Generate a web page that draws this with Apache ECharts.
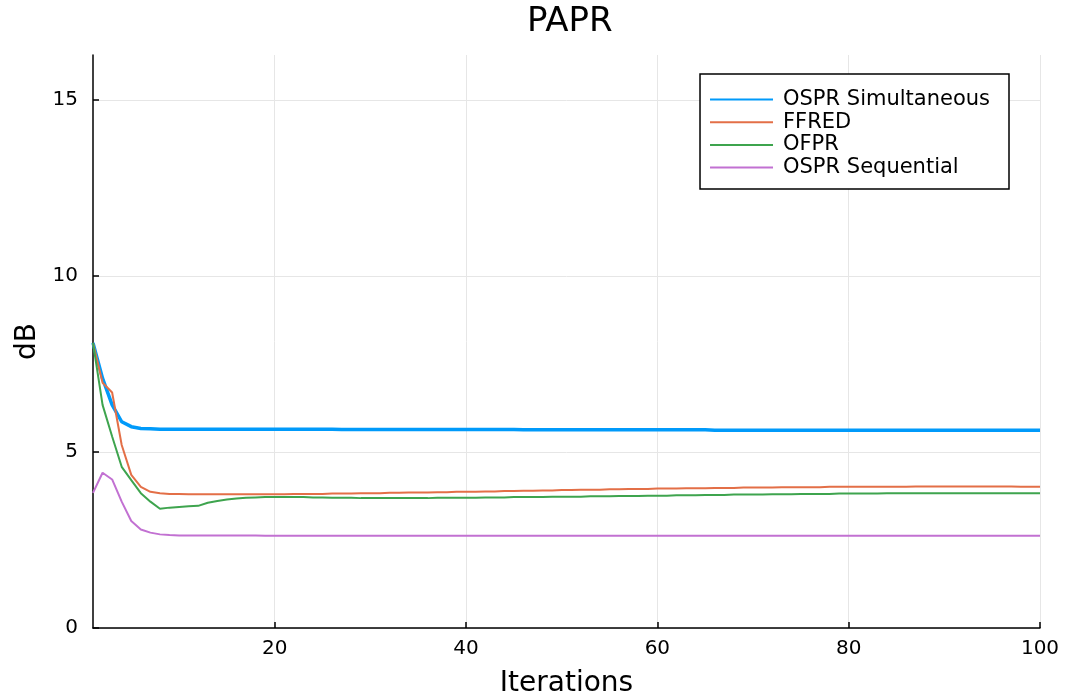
<!DOCTYPE html>
<html>
<head>
<meta charset="utf-8">
<script src="https://cdn.jsdelivr.net/npm/echarts@6/dist/echarts.min.js"></script>
<style>html,body{margin:0;padding:0;background:#fff}#c{width:1066px;height:698px}</style>
</head>
<body>
<div id="c"></div>
<script>
const seriesNames = ['OSPR Simultaneous', 'FFRED', 'OFPR', 'OSPR Sequential'];
const xTicks = [20, 40, 60, 80, 100];
const yTicks = [0, 5, 10, 15];

const osprSimultaneous = [
  8.10, 7.09, 6.34, 5.86, 5.72, 5.67, 5.66, 5.65, 5.65, 5.65,
  5.65, 5.65, 5.65, 5.65, 5.65, 5.65, 5.65, 5.65, 5.65, 5.65,
  5.65, 5.65, 5.65, 5.65, 5.65, 5.65, 5.64, 5.64, 5.64, 5.64,
  5.64, 5.64, 5.64, 5.64, 5.64, 5.64, 5.64, 5.64, 5.64, 5.64,
  5.64, 5.64, 5.64, 5.64, 5.64, 5.63, 5.63, 5.63, 5.63, 5.63,
  5.63, 5.63, 5.63, 5.63, 5.63, 5.63, 5.63, 5.63, 5.63, 5.63,
  5.63, 5.63, 5.63, 5.63, 5.63, 5.62, 5.62, 5.62, 5.62, 5.62,
  5.62, 5.62, 5.62, 5.62, 5.62, 5.62, 5.62, 5.62, 5.62, 5.62,
  5.62, 5.62, 5.62, 5.62, 5.62, 5.62, 5.62, 5.62, 5.62, 5.62,
  5.62, 5.62, 5.62, 5.62, 5.62, 5.62, 5.62, 5.62, 5.62, 5.62
];
const ffred = [
  8.10, 6.97, 6.69, 5.20, 4.35, 4.01, 3.87, 3.83, 3.81, 3.81,
  3.80, 3.80, 3.80, 3.80, 3.80, 3.80, 3.80, 3.80, 3.80, 3.80,
  3.80, 3.81, 3.81, 3.81, 3.81, 3.82, 3.82, 3.82, 3.83, 3.83,
  3.83, 3.84, 3.84, 3.85, 3.85, 3.85, 3.86, 3.86, 3.87, 3.87,
  3.87, 3.88, 3.88, 3.89, 3.89, 3.90, 3.90, 3.91, 3.91, 3.92,
  3.92, 3.93, 3.93, 3.93, 3.94, 3.94, 3.95, 3.95, 3.95, 3.96,
  3.96, 3.96, 3.97, 3.97, 3.97, 3.98, 3.98, 3.98, 3.99, 3.99,
  3.99, 3.99, 4.00, 4.00, 4.00, 4.00, 4.00, 4.01, 4.01, 4.01,
  4.01, 4.01, 4.01, 4.01, 4.01, 4.01, 4.02, 4.02, 4.02, 4.02,
  4.02, 4.02, 4.02, 4.02, 4.02, 4.02, 4.02, 4.01, 4.01, 4.01
];
const ofpr = [
  8.10, 6.34, 5.44, 4.58, 4.20, 3.83, 3.59, 3.39, 3.42, 3.44,
  3.46, 3.47, 3.56, 3.61, 3.65, 3.68, 3.70, 3.71, 3.72, 3.72,
  3.72, 3.72, 3.72, 3.71, 3.71, 3.70, 3.70, 3.70, 3.69, 3.69,
  3.69, 3.69, 3.69, 3.69, 3.69, 3.69, 3.70, 3.70, 3.70, 3.70,
  3.70, 3.71, 3.71, 3.71, 3.72, 3.72, 3.72, 3.72, 3.73, 3.73,
  3.73, 3.73, 3.74, 3.74, 3.74, 3.75, 3.75, 3.75, 3.76, 3.76,
  3.76, 3.77, 3.77, 3.77, 3.78, 3.78, 3.78, 3.79, 3.79, 3.79,
  3.79, 3.80, 3.80, 3.80, 3.81, 3.81, 3.81, 3.81, 3.82, 3.82,
  3.82, 3.82, 3.82, 3.83, 3.83, 3.83, 3.83, 3.83, 3.83, 3.83,
  3.83, 3.83, 3.83, 3.83, 3.83, 3.83, 3.83, 3.83, 3.83, 3.83
];
const osprSequential = [
  3.84, 4.41, 4.22, 3.59, 3.04, 2.80, 2.71, 2.66, 2.64, 2.63,
  2.63, 2.63, 2.63, 2.63, 2.63, 2.63, 2.63, 2.63, 2.62, 2.62,
  2.62, 2.62, 2.62, 2.62, 2.62, 2.62, 2.62, 2.62, 2.62, 2.62,
  2.62, 2.62, 2.62, 2.62, 2.62, 2.62, 2.62, 2.62, 2.62, 2.62,
  2.62, 2.62, 2.62, 2.62, 2.62, 2.62, 2.62, 2.62, 2.62, 2.62,
  2.62, 2.62, 2.62, 2.62, 2.62, 2.62, 2.62, 2.62, 2.62, 2.62,
  2.62, 2.62, 2.62, 2.62, 2.62, 2.62, 2.62, 2.62, 2.62, 2.62,
  2.62, 2.62, 2.62, 2.62, 2.62, 2.62, 2.62, 2.62, 2.62, 2.62,
  2.62, 2.62, 2.62, 2.62, 2.62, 2.62, 2.62, 2.62, 2.62, 2.62,
  2.62, 2.62, 2.62, 2.62, 2.62, 2.62, 2.62, 2.62, 2.62, 2.62
];

const allValues = [osprSimultaneous, ffred, ofpr, osprSequential];
const colors = ['#009AFA', '#E36F47', '#3EA44E', '#C271D2'];
const widths = [3.5, 2, 2, 2];
const FONT = 'DejaVu Sans';

const chart = echarts.init(document.getElementById('c'), null, {renderer: 'canvas'});
const series = allValues.map((vals, i) => ({
  name: seriesNames[i],
  type: 'line',
  symbol: 'none',
  animation: false,
  color: colors[i],
  lineStyle: {color: colors[i], width: widths[i]},
  data: vals.map((v, k) => [k + 1, v])
}));

chart.setOption({
  backgroundColor: '#ffffff',
  animation: false,
  title: {
    text: 'PAPR',
    left: 522,
    top: 0,
    textStyle: {fontFamily: FONT, fontSize: 34, fontWeight: 'normal', color: '#000'}
  },
  grid: {left: 93, right: 26, top: 55, bottom: 70, containLabel: false, outerBoundsMode: 'none'},
  legend: {
    orient: 'vertical',
    right: 57,
    top: 74,
    padding: [15, 19, 11, 10],
    itemWidth: 63,
    itemHeight: 14,
    itemGap: 1.7,
    backgroundColor: '#fff',
    borderColor: '#000',
    borderWidth: 1.5,
    borderRadius: 0,
    icon: 'path://M0,6 L63,6 L63,8 L0,8 Z',
    textStyle: {fontFamily: FONT, fontSize: 21, lineHeight: 21, color: '#000', padding: [0, 0, 0, 5]},
    data: seriesNames
  },
  xAxis: {
    type: 'value',
    min: 1,
    max: 100,
    name: 'Iterations',
    nameLocation: 'middle',
    nameGap: 42,
    nameTextStyle: {fontFamily: FONT, fontSize: 28, color: '#000'},
    axisLine: {show: true, onZero: false, lineStyle: {color: '#000', width: 1.5}},
    axisTick: {show: true, inside: true, length: 6, customValues: xTicks, lineStyle: {color: '#000', width: 1.5}},
    axisLabel: {customValues: xTicks, margin: 11, fontFamily: FONT, fontSize: 20, color: '#000'},
    splitLine: {show: true, lineStyle: {color: '#e6e6e6', width: 1}}
  },
  yAxis: {
    type: 'value',
    min: 0,
    max: 16.28,
    name: 'dB',
    nameLocation: 'middle',
    nameGap: 51,
    nameTextStyle: {fontFamily: FONT, fontSize: 28, color: '#000'},
    axisLine: {show: true, onZero: false, lineStyle: {color: '#000', width: 1.5}},
    axisTick: {show: true, inside: true, length: 6, customValues: yTicks, lineStyle: {color: '#000', width: 1.5}},
    axisLabel: {customValues: yTicks, margin: 15, fontFamily: FONT, fontSize: 20, color: '#000'},
    splitLine: {show: true, lineStyle: {color: '#e6e6e6', width: 1}}
  },
  series: series
});
</script>
</body>
</html>
